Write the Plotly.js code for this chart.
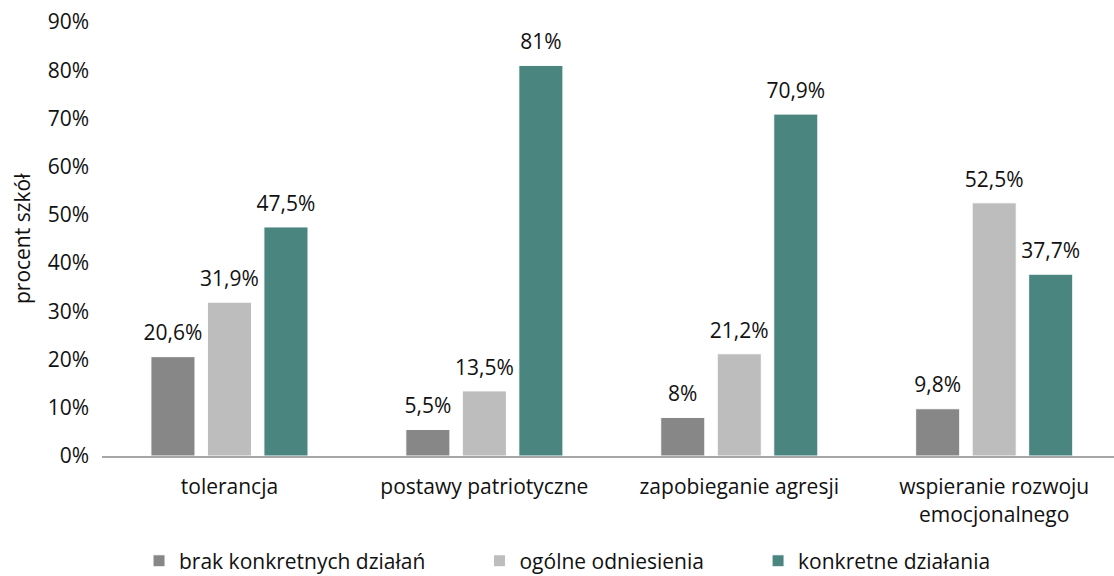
<!DOCTYPE html>
<html>
<head>
<meta charset="utf-8">
<script src="https://cdn.plot.ly/plotly-3.0.1.min.js"></script>
<style>html,body{margin:0;padding:0;background:#fff}#chart{width:1114px;height:576px}</style>
</head>
<body>
<div id="chart"></div>
<script>
var categories = ["tolerancja", "postawy patriotyczne", "zapobieganie agresji", "wspieranie rozwoju<br>emocjonalnego"];
var seriesNames = ["brak konkretnych działań", "ogólne odniesienia", "konkretne działania"];
var brak = [20.6, 5.5, 8, 9.8];
var ogolne = [31.9, 13.5, 21.2, 52.5];
var konkretne = [47.5, 81, 70.9, 37.7];
var tickVals = [0, 10, 20, 30, 40, 50, 60, 70, 80, 90];
var tickLabels = ["0%", "10%", "20%", "30%", "40%", "50%", "60%", "70%", "80%", "90%"];
var yTitle = "procent szkół";
var colors = ["#878787", "#bdbdbd", "#4a8580"];

function lbl(arr){ return arr.map(function(v){ return String(v).replace('.', ',') + '%'; }); }
var PAD = "\u00a0\u00a0\u00a0\u00a0\u00a0\u00a0\u00a0\u00a0\u00a0";

var FONT = "Open Sans, Noto Sans, sans-serif";
var FS = 21;
var series = [brak, ogolne, konkretne];
var traces = series.map(function(vals, i){
  return {
    type: 'bar', x: categories, y: vals,
    name: seriesNames[i] + (i < series.length - 1 ? PAD : ''),
    marker: {color: colors[i], line: {color: '#ffffff', width: 1}},
    offsetgroup: 'g' + i,
    hoverinfo: 'none'
  };
});
var labelTraces = series.map(function(vals, i){
  return {
    type: 'scatter', mode: 'markers+text', x: categories, y: vals, showlegend: false,
    offsetgroup: 'g' + i,
    marker: {size: 16, opacity: 0, color: colors[i]},
    text: lbl(vals), textposition: 'top center', cliponaxis: false,
    textfont: {family: FONT, size: FS, color: '#111'},
    hoverinfo: 'none'
  };
});

var layout = {
  width: 1114, height: 576,
  margin: {l: 102, r: 0, t: 22, b: 120, autoexpand: false},
  paper_bgcolor: '#fff', plot_bgcolor: '#fff',
  font: {family: FONT, size: FS, color: '#111'},
  barmode: 'group', bargap: 0.335, bargroupgap: 0.22,
  scattermode: 'group', scattergap: 0.335,
  showlegend: true,
  legend: {orientation: 'h', x: 0.46, xanchor: 'center', y: -0.195, yanchor: 'top',
           font: {family: FONT, size: FS, color: '#111'}, traceorder: 'normal'},
  xaxis: {range: [-0.5, 3.47], showgrid: false, zeroline: false, showline: true,
          linecolor: '#a6a6a6', linewidth: 2, ticks: '', ticklabelstandoff: 11,
          tickfont: {family: FONT, size: FS, color: '#111'}},
  yaxis: {range: [0, 90], tickvals: tickVals, ticktext: tickLabels, showgrid: false, zeroline: false,
          showline: false, ticks: '', ticklabelstandoff: 12,
          tickfont: {family: FONT, size: FS, color: '#111'}},
  annotations: [{text: yTitle, xref: 'paper', yref: 'paper', x: -0.079, y: 0.5,
                 xanchor: 'center', yanchor: 'middle', textangle: -90, showarrow: false,
                 font: {family: FONT, size: FS, color: '#111'}}]
};

Plotly.newPlot('chart', traces.concat(labelTraces), layout, {displayModeBar: false, staticPlot: true});
</script>
</body>
</html>
